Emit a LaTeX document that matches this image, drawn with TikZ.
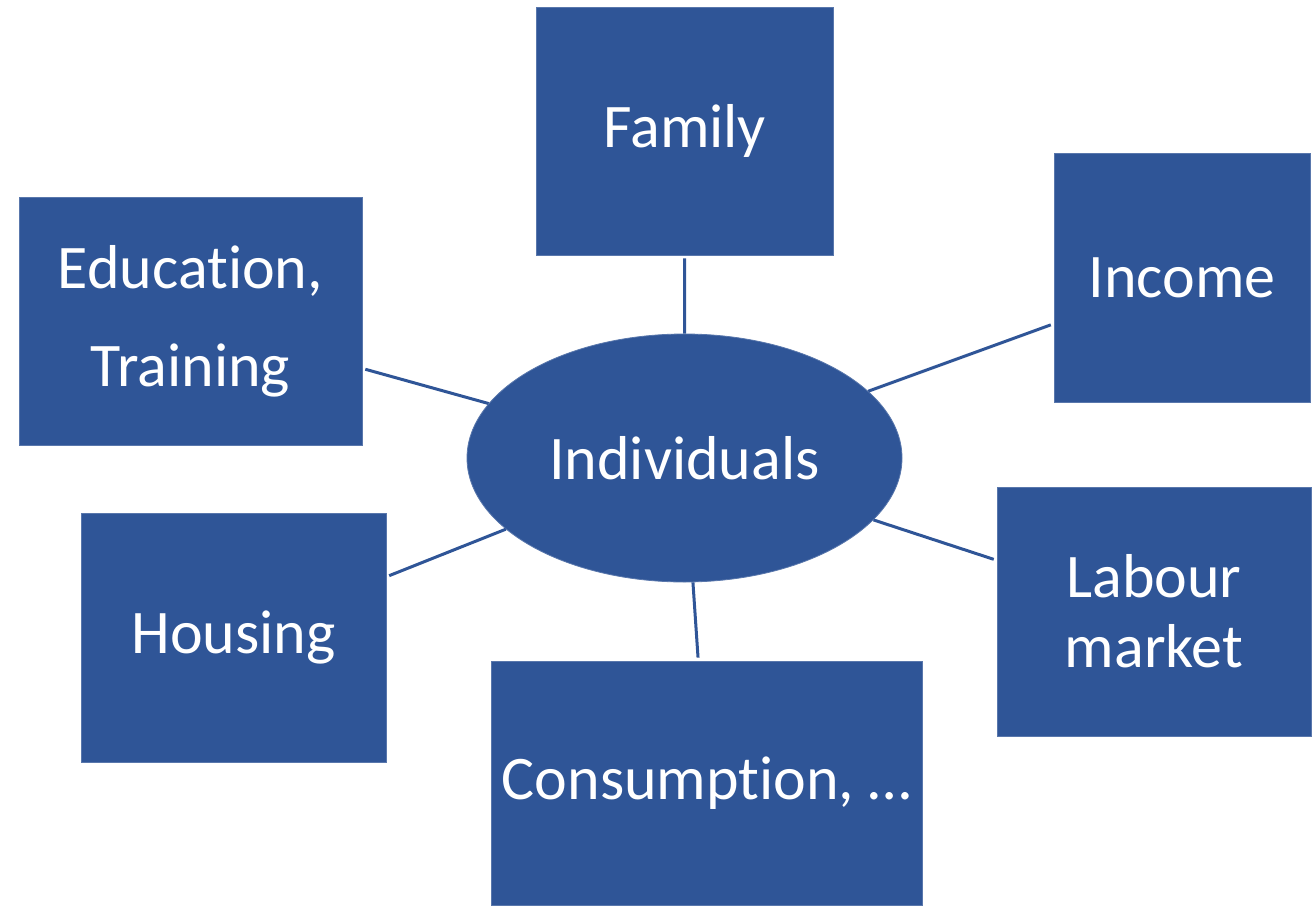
\documentclass[tikz,border=0pt]{standalone}
\usepackage{fontspec}
\setmainfont{Carlito}[Ligatures=NoCommon]
\usetikzlibrary{shapes.geometric}
\definecolor{boxblue}{HTML}{2F5597}
\begin{document}
\begin{tikzpicture}[x=1pt,y=-1pt,
  box/.style={rectangle,fill=boxblue,draw=boxblue!80!white,line width=0.8pt,inner sep=0pt,text=white,align=center,font=\fontsize{62}{70}\selectfont},
  conn/.style={draw=boxblue,line width=3pt,shorten >=3pt}]
\useasboundingbox (0,0) rectangle (1312,906);
\node[box,minimum width=296.5pt,minimum height=248pt] (fam) at (684.75,131) {Family};
\node[box,minimum width=256pt,minimum height=249pt] (inc) at (1182,277.5) {Income};
\node[box,minimum width=343pt,minimum height=248pt] (edu) at (190.5,321) {Education,\\[28pt]Training};
\node[box,minimum width=305pt,minimum height=249pt] (hou) at (233.5,637.5) {Housing};
\node[box,minimum width=431pt,minimum height=244pt] (con) at (706.5,783) {Consumption, …};
\node[box,minimum width=314pt,minimum height=249pt] (lab) at (1154,611.5) {Labour\\market};
\node[box,ellipse,minimum width=435pt,minimum height=248pt] (ind) at (684.5,458) {Individuals};
\draw[conn] (ind) -- (fam);
\draw[conn] (ind) -- (inc);
\draw[conn] (ind) -- (edu);
\draw[conn] (ind) -- (hou);
\draw[conn] (ind) -- (con);
\draw[conn] (ind) -- (lab);
\end{tikzpicture}
\end{document}
